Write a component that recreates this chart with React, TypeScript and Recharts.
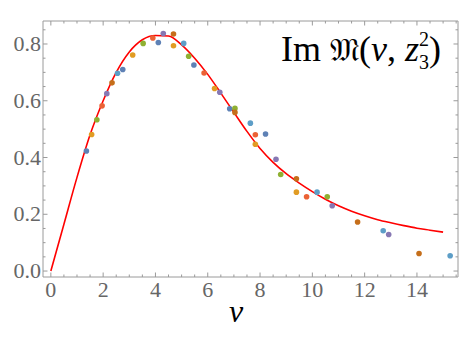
import React from 'react';
import { ComposedChart, Line, Scatter, XAxis, YAxis } from 'recharts';

// curve values
const curveNu = [0, 0.5, 1, 1.5, 2, 2.5, 3, 3.5, 4, 4.5, 5, 5.5, 6, 6.5, 7, 7.5, 8, 8.5, 9, 9.5, 10, 10.5, 11, 11.5, 12, 12.5, 13, 13.5, 14, 14.5, 15];
const curveIm = [0, 0.165, 0.33, 0.48, 0.6, 0.7, 0.772, 0.815, 0.83, 0.828, 0.797, 0.75, 0.693, 0.627, 0.559, 0.492, 0.432, 0.383, 0.343, 0.31, 0.28, 0.253, 0.23, 0.211, 0.195, 0.181, 0.17, 0.16, 0.151, 0.144, 0.137];

// lattice points, one array per colour
const blue = [
  { x: 1.36, y: 0.423 }, { x: 2.75, y: 0.71 }, { x: 4.11, y: 0.805 },
  { x: 5.47, y: 0.726 }, { x: 6.84, y: 0.572 }, { x: 8.21, y: 0.483 },
];
const orange = [
  { x: 1.56, y: 0.481 }, { x: 3.13, y: 0.761 }, { x: 4.69, y: 0.794 },
  { x: 6.26, y: 0.643 }, { x: 7.82, y: 0.447 }, { x: 9.39, y: 0.278 },
];
const green = [
  { x: 1.76, y: 0.533 }, { x: 3.53, y: 0.802 }, { x: 5.27, y: 0.757 },
  { x: 7.04, y: 0.573 }, { x: 8.79, y: 0.34 }, { x: 10.57, y: 0.262 },
];
const red = [
  { x: 1.96, y: 0.582 }, { x: 3.9, y: 0.821 }, { x: 5.86, y: 0.698 },
  { x: 7.82, y: 0.48 }, { x: 9.78, y: 0.262 },
];
const purple = [
  { x: 2.14, y: 0.625 }, { x: 4.3, y: 0.837 }, { x: 6.46, y: 0.63 },
  { x: 8.61, y: 0.394 }, { x: 10.76, y: 0.23 }, { x: 12.92, y: 0.129 },
];
const darkOrange = [
  { x: 2.34, y: 0.663 }, { x: 4.69, y: 0.835 }, { x: 7.04, y: 0.559 },
  { x: 9.39, y: 0.325 }, { x: 11.73, y: 0.173 }, { x: 14.08, y: 0.062 },
];
const lightBlue = [
  { x: 2.55, y: 0.697 }, { x: 5.08, y: 0.802 }, { x: 7.63, y: 0.521 },
  { x: 10.18, y: 0.278 }, { x: 12.71, y: 0.142 }, { x: 15.27, y: 0.054 },
];

const xTicks = Array.from({ length: 32 }, (_, i) => i * 0.5);
const yTicks = Array.from({ length: 18 }, (_, i) => +(i * 0.05).toFixed(2));

const curveData = curveNu.map((x, i) => ({ x, y: curveIm[i] }));

const series = [
  { data: blue, color: '#5E81B5' },
  { data: orange, color: '#E19C24' },
  { data: green, color: '#8FB032' },
  { data: red, color: '#EB6235' },
  { data: purple, color: '#8778B3' },
  { data: darkOrange, color: '#C56E1A' },
  { data: lightBlue, color: '#5D9EC7' },
];

const frameColor = '#9a9a9a';
const labelFont = '"Liberation Serif", "Times New Roman", serif';

const isMajor = (v: number, step: number) => Math.abs(v / step - Math.round(v / step)) < 1e-6;

// frame ticks point inward, labels only on bottom/left
const makeTick = (side: 'bottom' | 'top' | 'left' | 'right') => (props: any) => {
  const { x, y, payload } = props;
  const v = payload.value;
  if (side === 'bottom' || side === 'top') {
    const major = isMajor(v, 2);
    const len = major ? 4.5 : 2.5;
    const dir = side === 'bottom' ? -1 : 1;
    return (
      <g>
        <line x1={x} y1={y} x2={x} y2={y + dir * len} stroke={frameColor} strokeWidth={1} />
        {side === 'bottom' && major && (
          <text x={x} y={y + 20} textAnchor="middle" fontFamily={labelFont} fontSize={22} fill="#666">
            {v}
          </text>
        )}
      </g>
    );
  }
  const major = isMajor(v, 0.2);
  const len = major ? 4.5 : 2.5;
  const dir = side === 'left' ? 1 : -1;
  return (
    <g>
      <line x1={x} y1={y} x2={x + dir * len} y2={y} stroke={frameColor} strokeWidth={1} />
      {side === 'left' && major && (
        <text x={x - 2} y={y + 7} textAnchor="end" fontFamily={labelFont} fontSize={22} fill="#666">
          {v.toFixed(1)}
        </text>
      )}
    </g>
  );
};

const App: React.FC = () => {
  return (
    <div style={{ position: 'absolute', left: 0, top: 0, width: 471, height: 353, background: '#fff' }}>
      <ComposedChart width={471} height={353} data={curveData} margin={{ top: 20, right: 12, bottom: 46, left: 3 }}>
        <XAxis xAxisId="b" type="number" dataKey="x" domain={[-0.3, 15.57]} ticks={xTicks} allowDataOverflow
          orientation="bottom" height={30} tickSize={0} tickMargin={0} interval={0}
          axisLine={{ stroke: frameColor }} tickLine={false} tick={makeTick('bottom')} />
        <XAxis xAxisId="t" type="number" dataKey="x" domain={[-0.3, 15.57]} ticks={xTicks} allowDataOverflow
          orientation="top" height={1} tickSize={0} tickMargin={0} interval={0}
          axisLine={{ stroke: frameColor }} tickLine={false} tick={makeTick('top')} />
        <YAxis yAxisId="l" type="number" domain={[-0.021, 0.881]} ticks={yTicks} allowDataOverflow
          orientation="left" width={40} tickSize={0} tickMargin={0} interval={0}
          axisLine={{ stroke: frameColor }} tickLine={false} tick={makeTick('left')} />
        <YAxis yAxisId="r" type="number" domain={[-0.021, 0.881]} ticks={yTicks} allowDataOverflow
          orientation="right" width={1} tickSize={0} tickMargin={0} interval={0}
          axisLine={{ stroke: frameColor }} tickLine={false} tick={makeTick('right')} />
        {series.map((s, i) => (
          <Scatter key={i} xAxisId="b" yAxisId="l" data={s.data} dataKey="y" isAnimationActive={false}
            shape={(p: any) => <circle cx={p.cx} cy={p.cy} r={2.8} fill={s.color} />} />
        ))}
        <Line xAxisId="b" yAxisId="l" data={curveData} dataKey="y" type="monotone" stroke="#ff0000"
          strokeWidth={1.6} dot={false} activeDot={false} isAnimationActive={false} />
      </ComposedChart>
      <svg width={471} height={353} style={{ position: 'absolute', left: 0, top: 0, pointerEvents: 'none' }}>
        <text x={236} y={322} textAnchor="middle" fontFamily={labelFont} fontStyle="italic" fontSize={32} fill="#000">
          ν
        </text>
        <text x={441} y={61} textAnchor="end" fontFamily={labelFont} fontSize={36} fill="#000">
          <tspan>Im </tspan>
          <tspan fontFamily='"DejaVu Serif", "DejaVu Sans", serif' fontSize={32}>𝔐</tspan>
          <tspan>(</tspan>
          <tspan fontStyle="italic">ν</tspan>
          <tspan>, </tspan>
          <tspan fontStyle="italic">z</tspan>
          <tspan fontSize={20} dy={-15}>2</tspan>
          <tspan fontSize={20} dx={-10} dy={23}>3</tspan>
          <tspan dy={-8}>)</tspan>
        </text>
      </svg>
    </div>
  );
};

export default App;
